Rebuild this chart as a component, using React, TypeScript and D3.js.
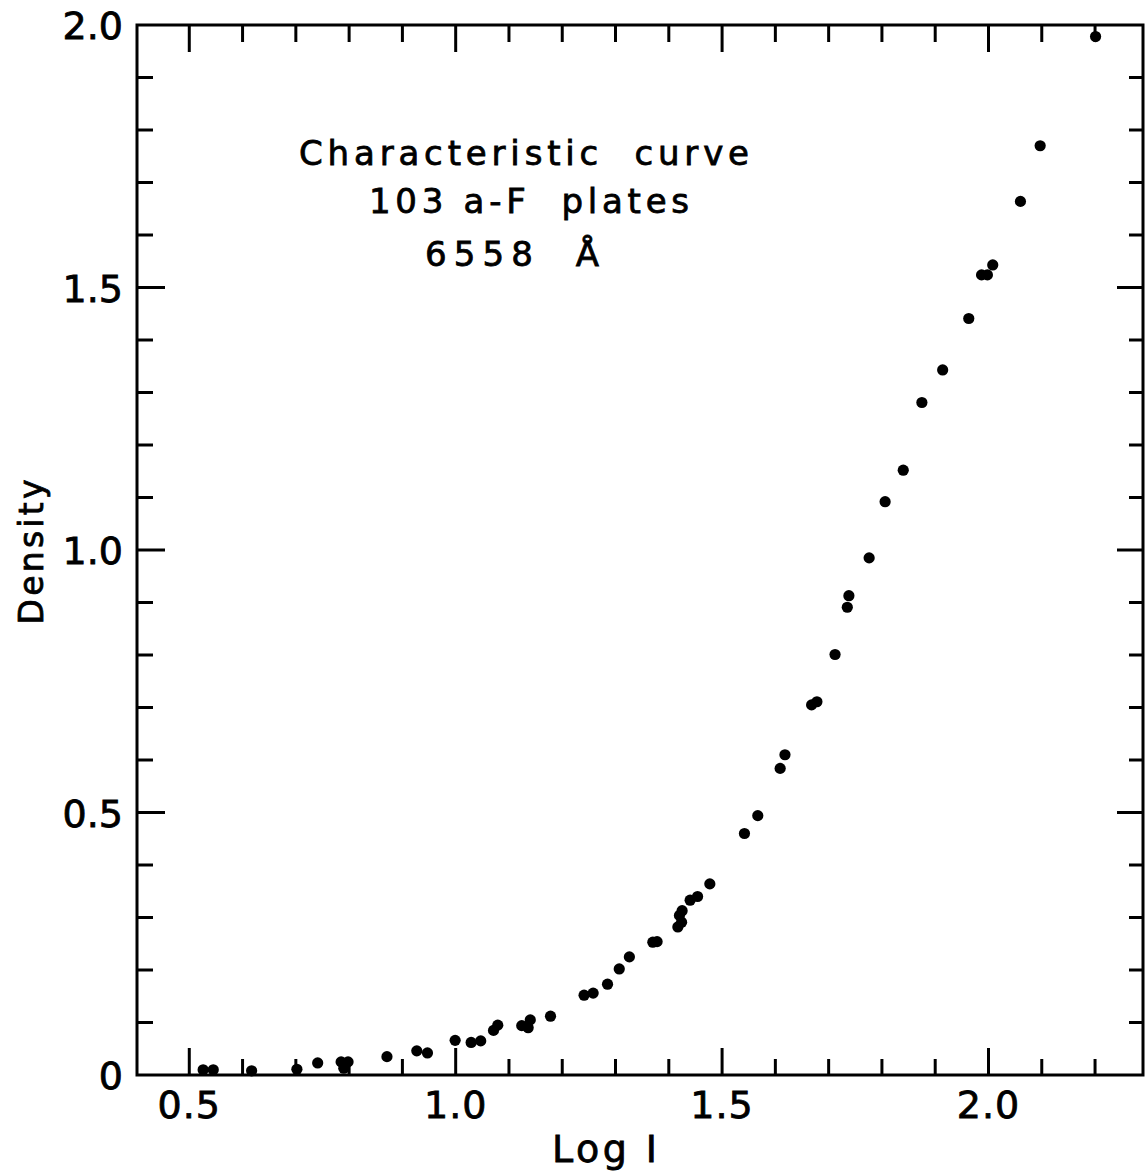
import React from "react";
import * as d3 from "d3";

const logI = [
  0.526, 0.545, 0.617, 0.702, 0.741, 0.785, 0.798, 0.79, 0.871, 0.927, 0.947,
  0.999, 1.029, 1.047, 1.071, 1.079, 1.124, 1.136, 1.14, 1.178, 1.241, 1.258,
  1.285, 1.307, 1.326, 1.37, 1.378, 1.417, 1.424, 1.42, 1.425, 1.44, 1.454,
  1.477, 1.542, 1.567, 1.609, 1.618, 1.668, 1.678, 1.712, 1.735, 1.738, 1.776,
  1.806, 1.84, 1.875, 1.914, 1.963, 1.987, 1.998, 2.008, 2.06, 2.097, 2.201,
];
const density = [
  0.01, 0.01, 0.008, 0.011, 0.023, 0.025, 0.025, 0.013, 0.035, 0.046, 0.042,
  0.066, 0.062, 0.065, 0.085, 0.095, 0.094, 0.09, 0.105, 0.112, 0.152, 0.156,
  0.173, 0.202, 0.225, 0.253, 0.254, 0.282, 0.291, 0.304, 0.313, 0.333, 0.34,
  0.364, 0.46, 0.494, 0.584, 0.61, 0.705, 0.711, 0.801, 0.891, 0.913, 0.985,
  1.092, 1.152, 1.281, 1.343, 1.441, 1.524, 1.524, 1.543, 1.664, 1.77, 1.978,
];

const xTickLabels = ["0.5", "1.0", "1.5", "2.0"];
const xTickValues = [0.5, 1.0, 1.5, 2.0];
const yTickLabels = ["0", "0.5", "1.0", "1.5", "2.0"];
const yTickValues = [0, 0.5, 1.0, 1.5, 2.0];
const xMinorTicks = d3.range(5, 23).map((d) => d / 10);
const yMinorTicks = d3.range(1, 20).map((d) => d / 10);

const titleLines = ["Characteristic  curve", "103 a-F  plates", "6558  Å"];

const FONT = "'DejaVu Sans', sans-serif";

export default function App() {
  const left = 137;
  const right = 1143;
  const top = 25;
  const bottom = 1075;
  const x = d3.scaleLinear().domain([0.4, 2.29]).range([136, 1143]);
  const y = d3.scaleLinear().domain([0, 2]).range([bottom, top]);

  const isMajor = (v: number) => Math.abs(v * 2 - Math.round(v * 2)) < 1e-6;
  const textStroke = { stroke: "#000", strokeWidth: 0.8 };

  return (
    <svg
      width={1145}
      height={1174}
      style={{ position: "absolute", left: 0, top: 0, background: "#fff" }}
    >
      <rect x={0} y={0} width={1145} height={1174} fill="#fff" />
      {/* frame */}
      <rect
        x={left}
        y={top}
        width={right - left}
        height={bottom - top}
        fill="none"
        stroke="#000"
        strokeWidth={3}
      />
      {/* x ticks bottom & top */}
      {xMinorTicks.map((v) => {
        const major = isMajor(v);
        const px = x(v);
        return (
          <g key={"xt" + v}>
            <line x1={px} x2={px} y1={bottom} y2={bottom - (major ? 27 : 16)} stroke="#000" strokeWidth={3} />
            <line x1={px} x2={px} y1={top} y2={top + (major ? 27 : 17)} stroke="#000" strokeWidth={3} />
          </g>
        );
      })}
      {/* y ticks left & right */}
      {yMinorTicks.map((v) => {
        const major = isMajor(v);
        const py = y(v);
        return (
          <g key={"yt" + v}>
            <line x1={left} x2={left + (major ? 28 : 16)} y1={py} y2={py} stroke="#000" strokeWidth={3} />
            <line x1={right} x2={right - (major ? 26 : 14)} y1={py} y2={py} stroke="#000" strokeWidth={3} />
          </g>
        );
      })}
      {/* x tick labels */}
      {xTickValues.map((v, i) => (
        <text
          key={"xl" + v}
          x={x(v)}
          y={1118}
          textAnchor="middle"
          fontFamily={FONT}
          fontSize={38}
          letterSpacing={1}
          {...textStroke}
        >
          {xTickLabels[i]}
        </text>
      ))}
      {/* y tick labels */}
      {yTickValues.map((v, i) => (
        <text
          key={"yl" + v}
          x={123}
          y={y(v) + 14}
          textAnchor="end"
          fontFamily={FONT}
          fontSize={38}
          {...textStroke}
        >
          {yTickLabels[i]}
        </text>
      ))}
      {/* axis titles */}
      <text
        x={552}
        y={1162}
        fontFamily={FONT}
        fontSize={38}
        textLength={105}
        lengthAdjust="spacing"
        style={{ whiteSpace: "pre" }}
        {...textStroke}
      >
        Log I
      </text>
      <text
        transform="translate(43,552) rotate(-90)"
        textAnchor="middle"
        fontFamily={FONT}
        fontSize={33}
        textLength={145}
        lengthAdjust="spacing"
        {...textStroke}
      >
        Density
      </text>
      {/* annotation */}
      <text x={299} y={165} fontFamily={FONT} fontSize={34} textLength={450} lengthAdjust="spacing" style={{ whiteSpace: "pre" }} {...textStroke}>
        {titleLines[0]}
      </text>
      <text x={369} y={213} fontFamily={FONT} fontSize={34} textLength={320} lengthAdjust="spacing" style={{ whiteSpace: "pre" }} {...textStroke}>
        {titleLines[1]}
      </text>
      <text x={425} y={266} fontFamily={FONT} fontSize={34} textLength={174} lengthAdjust="spacing" style={{ whiteSpace: "pre" }} {...textStroke}>
        {titleLines[2]}
      </text>
      {/* data points */}
      {logI.map((v, i) => (
        <circle key={"p" + i} cx={x(v)} cy={y(density[i])} r={5.6} fill="#000" />
      ))}
    </svg>
  );
}
